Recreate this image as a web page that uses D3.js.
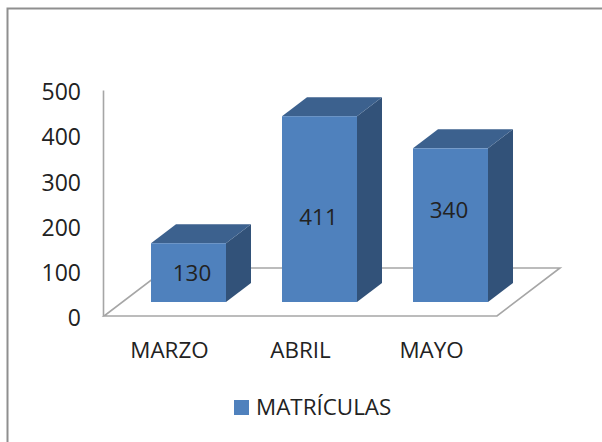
<!DOCTYPE html>
<html lang="es">
<head>
<meta charset="utf-8">
<title>Matrículas</title>
<script src="https://cdn.jsdelivr.net/npm/d3@7/dist/d3.min.js"></script>
<style>
  html, body { margin: 0; padding: 0; background: #fff; }
  svg { display: block; }
  text { font-family: "Open Sans", sans-serif; fill: #222; }
</style>
</head>
<body>
<div id="chart"></div>
<script>
// datos
var categories = ["MARZO", "ABRIL", "MAYO"];
var values = [130, 411, 340];
var yTicks = [0, 100, 200, 300, 400, 500];
var seriesName = "MATRÍCULAS";

var w = 602, h = 442;
var fontSize = 22.4;

// desplazamientos de la falsa perspectiva 3D
var floorDx = 63, floorDy = -48;  // fondo del suelo
var baseDx = 19, baseDy = -14;    // base de la barra respecto al frente del suelo
var depthDx = 25, depthDy = -19;  // profundidad de cada barra

// las etiquetas de valor no estan centradas igual en cada barra
var labelNudgeX = [3.5, -1, -1.5];
var labelNudgeY = [0.5, 8, -15];

var colFront = "#4f81bd", colTop = "#3c618e", colSide = "#325279", colLine = "#a6a6a6";

var svg = d3.select("#chart").append("svg")
    .attr("width", w)
    .attr("height", h);

// marco (se sale por la derecha y por abajo)
svg.append("rect")
    .attr("x", 7.5).attr("y", 8.5)
    .attr("width", w + 20).attr("height", h + 20)
    .attr("fill", "#fff")
    .attr("stroke", "#8f8f8f")
    .attr("stroke-width", 2);

var x = d3.scaleBand().domain(categories).range([104, 497]);
var y = d3.scaleLinear().domain([0, 500]).range([316, 90]);
var barWidth = 75;

// suelo
var x0 = x.range()[0], x1 = x.range()[1], y0 = y(0);
svg.append("polygon")
    .attr("points", [[x0, y0], [x1, y0], [x1 + floorDx, y0 + floorDy], [x0 + floorDx, y0 + floorDy]].join(" "))
    .attr("fill", "none")
    .attr("stroke", colLine)
    .attr("stroke-width", 1.6);

// eje Y
var yAxis = svg.append("g")
    .attr("transform", "translate(" + (x0 - 1) + ",0)")
    .call(d3.axisLeft(y).tickValues(yTicks).tickSize(0).tickPadding(22));
yAxis.select(".domain").attr("stroke", colLine).attr("stroke-width", 1.6);
yAxis.selectAll("text")
    .attr("dy", "0.42em")
    .style("font-family", '"Open Sans", sans-serif')
    .style("font-size", "23px")
    .attr("fill", "#222");

// eje X
var xAxis = svg.append("g")
    .attr("transform", "translate(0," + y0 + ")")
    .call(d3.axisBottom(x).tickSize(0).tickPadding(26));
xAxis.select(".domain").remove();
xAxis.selectAll("text")
    .style("font-family", '"Open Sans", sans-serif')
    .style("font-size", fontSize + "px")
    .attr("fill", "#222");

// barras
var bars = svg.selectAll("g.bar")
    .data(values)
    .enter()
    .append("g")
    .attr("class", "bar")
    .attr("transform", function(d, i) {
        var left = x(categories[i]) + (x.bandwidth() - barWidth) / 2 + baseDx;
        return "translate(" + left + "," + baseDy + ")";
    });

bars.append("polygon")  // cara lateral
    .attr("points", function(d) {
        var t = y(d), b = y(0);
        return [[barWidth, t], [barWidth + depthDx, t + depthDy], [barWidth + depthDx, b + depthDy], [barWidth, b]].join(" ");
    })
    .attr("fill", colSide);

bars.append("polygon")  // cara superior
    .attr("points", function(d) {
        var t = y(d);
        return [[0, t], [depthDx, t + depthDy], [barWidth + depthDx, t + depthDy], [barWidth, t]].join(" ");
    })
    .attr("fill", colTop);

bars.append("rect")  // frente
    .attr("x", 0)
    .attr("y", function(d) { return y(d); })
    .attr("width", barWidth)
    .attr("height", function(d) { return y(0) - y(d); })
    .attr("fill", colFront);

bars.append("text")
    .attr("x", function(d, i) { return barWidth / 2 + labelNudgeX[i]; })
    .attr("y", function(d, i) { return (y(d) + y(0)) / 2 + labelNudgeY[i]; })
    .attr("dy", "0.36em")
    .attr("text-anchor", "middle")
    .attr("font-size", fontSize)
    .text(function(d) { return d; });

// leyenda
svg.append("rect")
    .attr("x", 234).attr("y", 400)
    .attr("width", 15).attr("height", 15)
    .attr("fill", colFront);
svg.append("text")
    .attr("x", 256).attr("y", 415)
    .attr("font-size", fontSize)
    .text(seriesName);
</script>
</body>
</html>
